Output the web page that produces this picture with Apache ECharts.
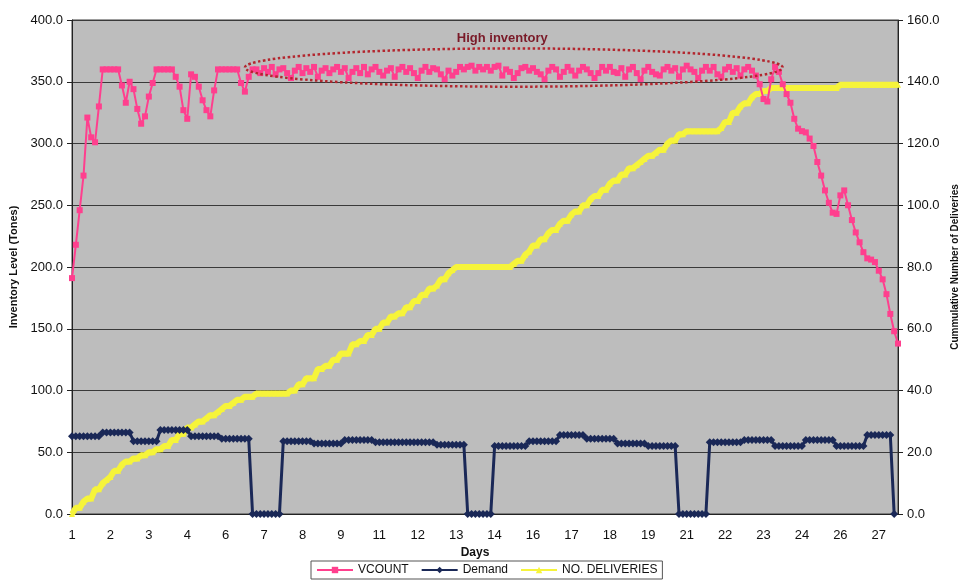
<!DOCTYPE html>
<html>
<head>
<meta charset="utf-8">
<script src="https://cdn.jsdelivr.net/npm/echarts@6/dist/echarts.min.js"></script>
<style>
  html, body { margin: 0; padding: 0; background: #ffffff; }
  #chart { width: 958px; height: 585px; }
</style>
</head>
<body>
<div id="chart"></div>
<script>
// Readings are taken every 3 hours: 8 per day over 27 days.
const days = [
  1,1,1,1,1,1,1,1, 2,2,2,2,2,2,2,2, 3,3,3,3,3,3,3,3, 4,4,4,4,4,4,4,4,
  5,5,5,5,5,5,5,5, 6,6,6,6,6,6,6,6, 7,7,7,7,7,7,7,7, 8,8,8,8,8,8,8,8,
  9,9,9,9,9,9,9,9, 10,10,10,10,10,10,10,10, 11,11,11,11,11,11,11,11,
  12,12,12,12,12,12,12,12, 13,13,13,13,13,13,13,13, 14,14,14,14,14,14,14,14,
  15,15,15,15,15,15,15,15, 16,16,16,16,16,16,16,16, 17,17,17,17,17,17,17,17,
  18,18,18,18,18,18,18,18, 19,19,19,19,19,19,19,19, 20,20,20,20,20,20,20,20,
  21,21,21,21,21,21,21,21, 22,22,22,22,22,22,22,22, 23,23,23,23,23,23,23,23,
  24,24,24,24,24,24,24,24, 25,25,25,25,25,25,25,25, 26,26,26,26,26,26,26,26,
  27,27,27,27,27,27,27,27
];

// Inventory level in tonnes (VCOUNT)
const vcount = [
  191, 218, 246, 274, 321, 305, 301, 330,
  360, 360, 360, 360, 360, 347, 333, 350,
  344, 328, 316, 322, 338, 349, 360, 360,
  360, 360, 360, 354, 346, 327, 320, 356,
  354, 346, 335, 327, 322, 343, 360, 360,
  360, 360, 360, 360, 349, 342, 354, 360,
  360, 357, 361, 358, 362, 356, 360, 361, 357, 353, 359, 362,
  357, 361, 358, 362, 354, 359, 361, 357, 360, 362, 358, 361,
  353, 358, 361, 357, 362, 356, 360, 362, 358, 355, 359, 361,
  354, 360, 362, 358, 361, 357, 353, 359, 362, 358, 361, 360,
  356, 352, 359, 355, 358, 362, 360, 362, 363, 359, 362, 360,
  362, 359, 362, 363, 355, 360, 358, 353, 357, 361, 362, 359,
  361, 358, 356, 352, 359, 362, 360, 354, 358, 362, 359, 355,
  359, 362, 360, 357, 353, 357, 362, 359, 362, 358, 357, 361,
  354, 360, 362, 357, 352, 359, 362, 358, 356, 355, 360, 362,
  359, 361, 354, 360, 363, 360, 358, 353, 359, 362, 359, 362,
  356, 354, 360, 362, 358, 361, 355, 360, 362, 359,
  355, 348, 336, 334, 352, 362, 358, 348, 340, 333,
  320, 312, 310, 309, 304, 298, 285, 274, 262, 252, 244, 243,
  258, 262, 250, 238, 228, 220, 212, 207, 206, 204, 197, 190, 178, 162, 148, 138
];

// Demand in tonnes per reading period
const demand = [
  63, 63, 63, 63, 63, 63, 63, 63,
  66, 66, 66, 66, 66, 66, 66, 66,
  59, 59, 59, 59, 59, 59, 59, 68,
  68, 68, 68, 68, 68, 68, 68, 63,
  63, 63, 63, 63, 63, 63, 63, 61,
  61, 61, 61, 61, 61, 61, 61, 0,
  0, 0, 0, 0, 0, 0, 0, 59,
  59, 59, 59, 59, 59, 59, 59, 57,
  57, 57, 57, 57, 57, 57, 57, 60,
  60, 60, 60, 60, 60, 60, 60, 58,
  58, 58, 58, 58, 58, 58, 58, 58,
  58, 58, 58, 58, 58, 58, 58, 56,
  56, 56, 56, 56, 56, 56, 56, 0,
  0, 0, 0, 0, 0, 0, 55, 55,
  55, 55, 55, 55, 55, 55, 55, 59,
  59, 59, 59, 59, 59, 59, 59, 64,
  64, 64, 64, 64, 64, 64, 61, 61,
  61, 61, 61, 61, 61, 61, 57, 57,
  57, 57, 57, 57, 57, 57, 55, 55,
  55, 55, 55, 55, 55, 55, 0, 0,
  0, 0, 0, 0, 0, 0, 58, 58,
  58, 58, 58, 58, 58, 58, 58, 60,
  60, 60, 60, 60, 60, 60, 60, 55,
  55, 55, 55, 55, 55, 55, 55, 60,
  60, 60, 60, 60, 60, 60, 60, 55,
  55, 55, 55, 55, 55, 55, 55, 64,
  64, 64, 64, 64, 64, 64, 0
];

// Cumulative number of deliveries
const deliveries = [
  0, 2, 2, 4, 5, 5, 8, 8, 10, 11,
  12, 14, 14, 16, 17, 17, 18, 18, 19, 19,
  20, 20, 21, 21, 22, 22, 24, 24, 26, 26,
  28, 28, 29, 30, 30, 31, 32, 32, 33, 34,
  35, 35, 36, 37, 37, 38, 38, 38, 39, 39,
  39, 39, 39, 39, 39, 39, 39, 40, 40, 42,
  42, 44, 44, 44, 47, 47, 48, 48, 50, 50,
  52, 52, 52, 55, 55, 56, 56, 58, 58, 60,
  60, 62, 62, 64, 64, 65, 65, 67, 67, 69,
  69, 71, 71, 73, 73, 74, 76, 76, 78, 79,
  80, 80, 80, 80, 80, 80, 80, 80, 80, 80,
  80, 80, 80, 80, 80, 81, 82, 82, 84, 85,
  87, 87, 89, 89, 91, 92, 92, 94, 95, 95,
  97, 98, 98, 100, 100, 102, 103, 103, 105, 105,
  107, 108, 108, 110, 110, 112, 112, 113, 114, 115,
  116, 116, 117, 118, 118, 120, 121, 121, 123, 123,
  124, 124, 124, 124, 124, 124, 124, 124, 124, 125,
  127, 127, 130, 130, 132, 133, 133, 135, 136, 136,
  137, 137, 138, 138, 138, 138, 138, 138, 138, 138,
  138, 138, 138, 138, 138, 138, 138, 138, 138, 138,
  139, 139, 139, 139, 139, 139, 139, 139, 139, 139,
  139, 139, 139, 139, 139, 139
];

const seriesNames = ['VCOUNT', 'Demand', 'NO. DELIVERIES'];

// "High inventory" band, in data units (reading index, tonnes)
const highBand = { fromIndex: 45, toIndex: 185, low: 346, high: 377 };
const highLabel = { text: 'High inventory', index: 112, value: 385 };

const FONT = '"Liberation Sans", Arial, sans-serif';
const fmt = v => v.toFixed(1);

const chart = echarts.init(document.getElementById('chart'), null, { renderer: 'canvas' });

chart.setOption({
  animation: false,
  backgroundColor: '#ffffff',
  textStyle: { fontFamily: FONT },
  grid: {
    left: 72, right: 60, top: 20, bottom: 71,
    outerBoundsMode: 'none',
    containLabel: false,
    show: true,
    backgroundColor: '#bdbdbd',
    borderColor: '#3a3a3a',
    borderWidth: 1
  },
  legend: {
    data: seriesNames,
    left: 311, top: 561,
    orient: 'horizontal',
    borderColor: '#555555',
    borderWidth: 1,
    padding: [3, 5, 3, 5],
    itemGap: 12,
    itemWidth: 36,
    itemHeight: 8,
    textStyle: { fontFamily: FONT, fontSize: 12, color: '#111111' }
  },
  xAxis: {
    type: 'category',
    data: days,
    boundaryGap: false,
    name: 'Days',
    nameLocation: 'middle',
    nameGap: 32,
    nameTextStyle: { fontFamily: FONT, fontWeight: 'bold', fontSize: 12, color: '#111111', padding: [0, 20, 0, 0] },
    axisLine: { show: true, lineStyle: { color: '#222222', width: 1 } },
    axisTick: { show: false },
    axisLabel: { interval: 9, margin: 15, fontSize: 13, color: '#111111', fontFamily: FONT },
    splitLine: { show: false }
  },
  yAxis: [
    {
      type: 'value',
      position: 'left',
      min: 0, max: 400, interval: 50,
      name: 'Inventory Level (Tones)',
      nameLocation: 'middle',
      nameRotate: 90,
      nameGap: 46,
      nameTextStyle: { fontFamily: FONT, fontWeight: 'bold', fontSize: 11, color: '#111111' },
      axisLine: { show: true, lineStyle: { color: '#222222', width: 1 } },
      axisTick: { show: true, length: 5, lineStyle: { color: '#222222' } },
      axisLabel: { formatter: fmt, fontSize: 13, color: '#111111', margin: 9, fontFamily: FONT },
      splitLine: { show: true, lineStyle: { color: '#3a3a3a', width: 1 } }
    },
    {
      type: 'value',
      position: 'right',
      min: 0, max: 160, interval: 20,
      name: 'Cummulative Number of Deliveries',
      nameLocation: 'middle',
      nameRotate: 90,
      nameGap: 50,
      nameTextStyle: { fontFamily: FONT, fontWeight: 'bold', fontSize: 10, color: '#111111' },
      axisLine: { show: true, lineStyle: { color: '#222222', width: 1 } },
      axisTick: { show: true, length: 5, lineStyle: { color: '#222222' } },
      axisLabel: { formatter: fmt, fontSize: 13, color: '#111111', margin: 9, fontFamily: FONT },
      splitLine: { show: false }
    }
  ],
  series: [
    {
      name: seriesNames[0],
      type: 'line',
      yAxisIndex: 0,
      data: vcount,
      symbol: 'rect',
      symbolSize: 6,
      showAllSymbol: true,
      lineStyle: { color: '#ff3f8e', width: 2 },
      itemStyle: { color: '#ff3f8e' },
      z: 4
    },
    {
      name: seriesNames[1],
      type: 'line',
      yAxisIndex: 0,
      data: demand,
      symbol: 'diamond',
      symbolSize: 8,
      showAllSymbol: true,
      lineStyle: { color: '#1a2857', width: 3 },
      itemStyle: { color: '#1a2857' },
      z: 3
    },
    {
      name: seriesNames[2],
      type: 'line',
      yAxisIndex: 1,
      data: deliveries,
      symbol: 'triangle',
      symbolSize: 6,
      showAllSymbol: true,
      lineStyle: { color: '#f6f43a', width: 6 },
      itemStyle: { color: '#f6f43a' },
      z: 2
    }
  ]
});

// Dotted ellipse and caption marking the high-inventory period
const toPx = (i, v) => chart.convertToPixel({ xAxisIndex: 0, yAxisIndex: 0 }, [i, v]);
const a = toPx(highBand.fromIndex, highBand.high);
const b = toPx(highBand.toIndex, highBand.low);
const t = toPx(highLabel.index, highLabel.value);

chart.setOption({
  graphic: [
    {
      type: 'ellipse',
      shape: { cx: (a[0] + b[0]) / 2, cy: (a[1] + b[1]) / 2, rx: (b[0] - a[0]) / 2, ry: (b[1] - a[1]) / 2 },
      style: { fill: 'none', stroke: '#b3262e', lineWidth: 2.5, lineDash: [2.5, 2.5] },
      z: 10
    },
    {
      type: 'text',
      x: t[0], y: t[1],
      style: {
        text: highLabel.text,
        fill: '#7a1a28',
        font: 'bold 13px ' + FONT,
        align: 'center',
        verticalAlign: 'middle'
      },
      z: 10
    }
  ]
});
</script>
</body>
</html>
